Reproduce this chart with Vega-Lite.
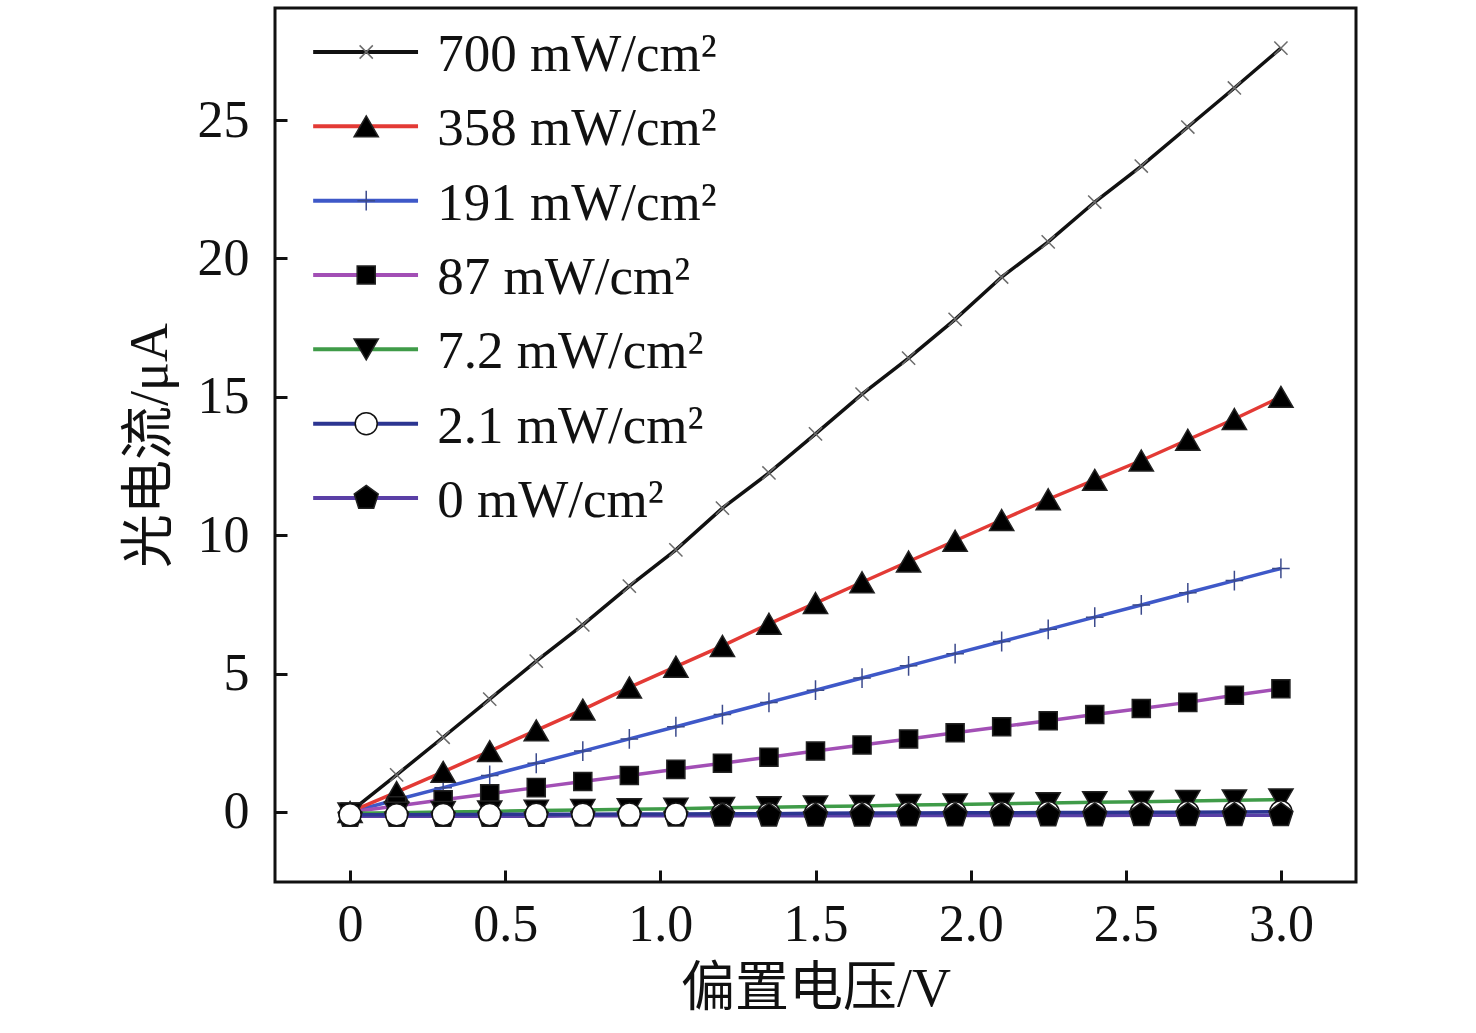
{
  "$schema": "https://vega.github.io/schema/vega-lite/v6.json",
  "width": 1081,
  "height": 874,
  "autosize": "none",
  "padding": {"left": 275, "top": 8, "right": 120, "bottom": 151},
  "background": "white",
  "config": {
    "view": {"stroke": "#111", "strokeWidth": 3},
    "font": "Liberation Serif"
  },
  "datasets": {
    "pts": [
      {"s":"700","v":0,"i":0},{"s":"700","v":0.15,"i":1.34},{"s":"700","v":0.3,"i":2.7},{"s":"700","v":0.45,"i":4.08},{"s":"700","v":0.6,"i":5.45},{"s":"700","v":0.75,"i":6.76},{"s":"700","v":0.9,"i":8.16},{"s":"700","v":1.05,"i":9.47},{"s":"700","v":1.2,"i":10.98},{"s":"700","v":1.35,"i":12.25},{"s":"700","v":1.5,"i":13.66},{"s":"700","v":1.65,"i":15.1},{"s":"700","v":1.8,"i":16.4},{"s":"700","v":1.95,"i":17.8},{"s":"700","v":2.1,"i":19.33},{"s":"700","v":2.25,"i":20.6},{"s":"700","v":2.4,"i":22.04},{"s":"700","v":2.55,"i":23.34},{"s":"700","v":2.7,"i":24.75},{"s":"700","v":2.85,"i":26.16},{"s":"700","v":3.0,"i":27.6},
      {"s":"191","v":0,"i":0},{"s":"191","v":0.15,"i":0.44},{"s":"191","v":0.3,"i":0.88},{"s":"191","v":0.45,"i":1.32},{"s":"191","v":0.6,"i":1.76},{"s":"191","v":0.75,"i":2.2},{"s":"191","v":0.9,"i":2.64},{"s":"191","v":1.05,"i":3.08},{"s":"191","v":1.2,"i":3.52},{"s":"191","v":1.35,"i":3.96},{"s":"191","v":1.5,"i":4.4},{"s":"191","v":1.65,"i":4.84},{"s":"191","v":1.8,"i":5.28},{"s":"191","v":1.95,"i":5.72},{"s":"191","v":2.1,"i":6.16},{"s":"191","v":2.25,"i":6.6},{"s":"191","v":2.4,"i":7.04},{"s":"191","v":2.55,"i":7.48},{"s":"191","v":2.7,"i":7.92},{"s":"191","v":2.85,"i":8.36},{"s":"191","v":3.0,"i":8.8},
      {"s":"358","v":0,"i":0},{"s":"358","v":0.15,"i":0.72},{"s":"358","v":0.3,"i":1.45},{"s":"358","v":0.45,"i":2.2},{"s":"358","v":0.6,"i":2.95},{"s":"358","v":0.75,"i":3.7},{"s":"358","v":0.9,"i":4.5},{"s":"358","v":1.05,"i":5.25},{"s":"358","v":1.2,"i":6.0},{"s":"358","v":1.35,"i":6.8},{"s":"358","v":1.5,"i":7.55},{"s":"358","v":1.65,"i":8.3},{"s":"358","v":1.8,"i":9.05},{"s":"358","v":1.95,"i":9.8},{"s":"358","v":2.1,"i":10.55},{"s":"358","v":2.25,"i":11.3},{"s":"358","v":2.4,"i":12.0},{"s":"358","v":2.55,"i":12.7},{"s":"358","v":2.7,"i":13.45},{"s":"358","v":2.85,"i":14.2},{"s":"358","v":3.0,"i":15.0},
      {"s":"87","v":0,"i":0},{"s":"87","v":0.15,"i":0.22},{"s":"87","v":0.3,"i":0.44},{"s":"87","v":0.45,"i":0.66},{"s":"87","v":0.6,"i":0.88},{"s":"87","v":0.75,"i":1.1},{"s":"87","v":0.9,"i":1.32},{"s":"87","v":1.05,"i":1.54},{"s":"87","v":1.2,"i":1.76},{"s":"87","v":1.35,"i":1.98},{"s":"87","v":1.5,"i":2.2},{"s":"87","v":1.65,"i":2.42},{"s":"87","v":1.8,"i":2.64},{"s":"87","v":1.95,"i":2.86},{"s":"87","v":2.1,"i":3.08},{"s":"87","v":2.25,"i":3.3},{"s":"87","v":2.4,"i":3.52},{"s":"87","v":2.55,"i":3.74},{"s":"87","v":2.7,"i":3.96},{"s":"87","v":2.85,"i":4.22},{"s":"87","v":3.0,"i":4.45},
      {"s":"7.2","v":0,"i":-0.05},{"s":"7.2","v":0.15,"i":-0.03},{"s":"7.2","v":0.3,"i":0},{"s":"7.2","v":0.45,"i":0.02},{"s":"7.2","v":0.6,"i":0.05},{"s":"7.2","v":0.75,"i":0.07},{"s":"7.2","v":0.9,"i":0.1},{"s":"7.2","v":1.05,"i":0.12},{"s":"7.2","v":1.2,"i":0.15},{"s":"7.2","v":1.35,"i":0.17},{"s":"7.2","v":1.5,"i":0.2},{"s":"7.2","v":1.65,"i":0.22},{"s":"7.2","v":1.8,"i":0.25},{"s":"7.2","v":1.95,"i":0.27},{"s":"7.2","v":2.1,"i":0.3},{"s":"7.2","v":2.25,"i":0.32},{"s":"7.2","v":2.4,"i":0.35},{"s":"7.2","v":2.55,"i":0.37},{"s":"7.2","v":2.7,"i":0.4},{"s":"7.2","v":2.85,"i":0.42},{"s":"7.2","v":3.0,"i":0.45},
      {"s":"0","v":0,"i":-0.15},{"s":"0","v":0.15,"i":-0.15},{"s":"0","v":0.3,"i":-0.15},{"s":"0","v":0.45,"i":-0.15},{"s":"0","v":0.6,"i":-0.15},{"s":"0","v":0.75,"i":-0.14},{"s":"0","v":0.9,"i":-0.14},{"s":"0","v":1.05,"i":-0.14},
      {"s":"2.1","v":0,"i":-0.1},{"s":"2.1","v":0.15,"i":-0.1},{"s":"2.1","v":0.3,"i":-0.09},{"s":"2.1","v":0.45,"i":-0.09},{"s":"2.1","v":0.6,"i":-0.08},{"s":"2.1","v":0.75,"i":-0.08},{"s":"2.1","v":0.9,"i":-0.07},{"s":"2.1","v":1.05,"i":-0.07},{"s":"2.1","v":1.2,"i":-0.06},{"s":"2.1","v":1.35,"i":-0.06},{"s":"2.1","v":1.5,"i":-0.05},{"s":"2.1","v":1.65,"i":-0.04},{"s":"2.1","v":1.8,"i":-0.04},{"s":"2.1","v":1.95,"i":-0.03},{"s":"2.1","v":2.1,"i":-0.03},{"s":"2.1","v":2.25,"i":-0.02},{"s":"2.1","v":2.4,"i":-0.02},{"s":"2.1","v":2.55,"i":-0.01},{"s":"2.1","v":2.7,"i":-0.01},{"s":"2.1","v":2.85,"i":0},{"s":"2.1","v":3.0,"i":0.01},
      {"s":"0","v":1.2,"i":-0.14},{"s":"0","v":1.35,"i":-0.14},{"s":"0","v":1.5,"i":-0.14},{"s":"0","v":1.65,"i":-0.14},{"s":"0","v":1.8,"i":-0.13},{"s":"0","v":1.95,"i":-0.13},{"s":"0","v":2.1,"i":-0.13},{"s":"0","v":2.25,"i":-0.13},{"s":"0","v":2.4,"i":-0.13},{"s":"0","v":2.55,"i":-0.12},{"s":"0","v":2.7,"i":-0.12},{"s":"0","v":2.85,"i":-0.12},{"s":"0","v":3.0,"i":-0.12}
    ],
    "legend": [
      {"s":"700","k":1,"t":"700 mW/cm²"},
      {"s":"358","k":2,"t":"358 mW/cm²"},
      {"s":"191","k":3,"t":"191 mW/cm²"},
      {"s":"87","k":4,"t":"87 mW/cm²"},
      {"s":"7.2","k":5,"t":"7.2 mW/cm²"},
      {"s":"2.1","k":6,"t":"2.1 mW/cm²"},
      {"s":"0","k":7,"t":"0 mW/cm²"}
    ]
  },
  "resolve": {"scale": {"y": "independent"}},
  "layer": [
    {
      "data": {"name": "pts"},
      "encoding": {
        "x": {
          "field": "v", "type": "quantitative",
          "scale": {"domain": [-0.242, 3.242], "nice": false, "zero": false},
          "axis": {
            "values": [0, 0.5, 1, 1.5, 2, 2.5, 3],
            "labelExpr": "datum.value == 0 ? '0' : format(datum.value, '.1f')",
            "domain": false, "grid": false,
            "tickSize": -12, "tickWidth": 3, "tickColor": "#111",
            "labelFont": "Liberation Serif", "labelFontSize": 52, "labelColor": "#111",
            "labelPadding": 29,
            "title": "偏置电压/V",
            "titleFont": "Liberation Serif, Noto Sans CJK SC", "titleFontSize": 54,
            "titleFontWeight": "normal", "titleColor": "#111", "titlePadding": 12
          }
        },
        "y": {
          "field": "i", "type": "quantitative",
          "scale": {"domain": [-2.53, 29.05], "nice": false, "zero": false},
          "axis": {
            "values": [0, 5, 10, 15, 20, 25],
            "domain": false, "grid": false,
            "tickSize": -12, "tickWidth": 3, "tickColor": "#111",
            "labelFont": "Liberation Serif", "labelFontSize": 52, "labelColor": "#111",
            "labelPadding": 38,
            "title": "光电流/μA",
            "titleFont": "Liberation Serif, Noto Sans CJK SC", "titleFontSize": 54,
            "titleFontWeight": "normal", "titleColor": "#111", "titlePadding": 20
          }
        }
      },
      "layer": [
        {
          "mark": {"type": "line", "strokeWidth": 3.5},
          "encoding": {
            "color": {
              "field": "s", "type": "nominal", "legend": null,
              "scale": {
                "domain": ["700", "358", "191", "87", "7.2", "2.1", "0"],
                "range": ["#111111", "#e33a35", "#3e58c8", "#a24fb5", "#3f9b48", "#2c3591", "#5a3fa6"]
              }
            }
          }
        },
        {
          "mark": {"type": "point", "filled": false, "strokeWidth": 1.5, "opacity": 1, "size": 484},
          "encoding": {
            "shape": {
              "field": "s", "type": "nominal", "legend": null,
              "scale": {
                "domain": ["700", "358", "191", "87", "7.2", "2.1", "0"],
                "range": [
                  "M-0.6,-0.6L0.6,0.6M-0.6,0.6L0.6,-0.6",
                  "M0,-0.95L1.1,0.95L-1.1,0.95Z",
                  "M-0.8,0H0.8M0,-0.9V0.9",
                  "M-0.82,-0.82H0.82V0.82H-0.82Z",
                  "M0,0.95L1.1,-0.95L-1.1,-0.95Z",
                  "circle",
                  "M0,-1.15L1.09,-0.36L0.68,0.93L-0.68,0.93L-1.09,-0.36Z"
                ]
              }
            },
            "fill": {
              "field": "s", "type": "nominal", "legend": null,
              "scale": {
                "domain": ["700", "358", "191", "87", "7.2", "2.1", "0"],
                "range": ["transparent", "#000000", "transparent", "#000000", "#000000", "#ffffff", "#000000"]
              }
            },
            "stroke": {
              "field": "s", "type": "nominal", "legend": null,
              "scale": {
                "domain": ["700", "358", "191", "87", "7.2", "2.1", "0"],
                "range": ["#6b6b6b", "#222222", "#3b4a8c", "#222222", "#222222", "#111111", "#222222"]
              }
            }
          }
        }
      ]
    },
    {
      "data": {"name": "legend"},
      "encoding": {
        "y": {
          "field": "k", "type": "quantitative", "axis": null,
          "scale": {"domain": [0.408, 12.166], "reverse": true, "nice": false, "zero": false}
        }
      },
      "layer": [
        {
          "mark": {"type": "rule", "strokeWidth": 4},
          "encoding": {
            "x": {"datum": -0.119, "type": "quantitative"},
            "x2": {"datum": 0.219},
            "color": {"field": "s", "type": "nominal", "legend": null}
          }
        },
        {
          "mark": {"type": "point", "filled": false, "strokeWidth": 1.5, "opacity": 1, "size": 484},
          "encoding": {
            "x": {"datum": 0.052, "type": "quantitative"},
            "shape": {"field": "s", "type": "nominal", "legend": null},
            "fill": {"field": "s", "type": "nominal", "legend": null},
            "stroke": {"field": "s", "type": "nominal", "legend": null}
          }
        },
        {
          "mark": {"type": "text", "align": "left", "baseline": "middle", "dy": 3, "font": "Liberation Serif", "fontSize": 53, "color": "#111"},
          "encoding": {
            "x": {"datum": 0.281, "type": "quantitative"},
            "text": {"field": "t", "type": "nominal"}
          }
        }
      ]
    }
  ]
}
